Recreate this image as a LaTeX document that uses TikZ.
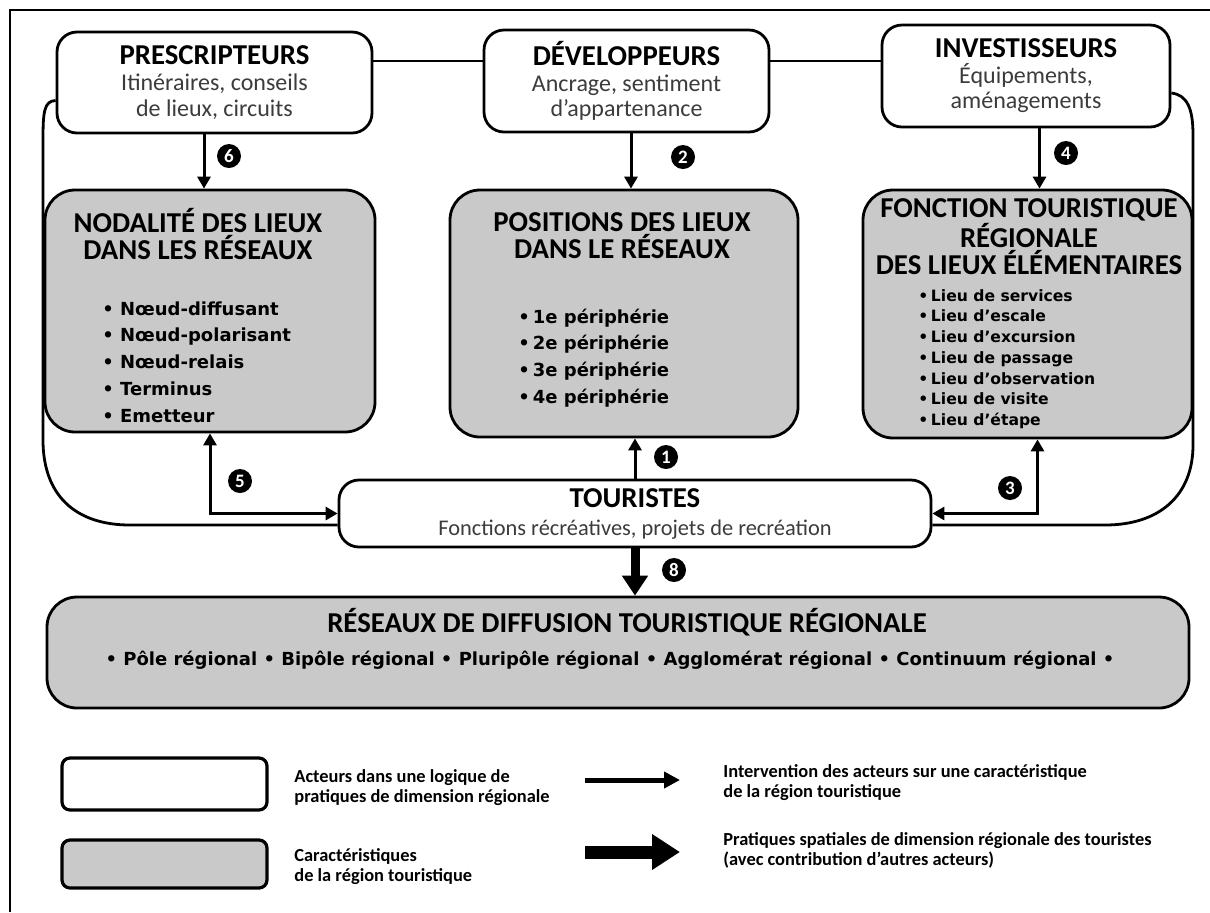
\documentclass[tikz,border=0pt]{standalone}
\usepackage{fontspec}
\setmainfont{Carlito}
\newfontfamily\puce{DejaVu Sans}
\usetikzlibrary{arrows.meta,positioning,calc}
\definecolor{gris}{HTML}{C9C9C9}
\definecolor{soustexte}{HTML}{3C3C3C}
\newcommand{\acteur}[1]{{\color{black}\bfseries\fontsize{14.4}{12.8}\selectfont #1}}

\begin{document}
\begin{tikzpicture}[x=0.5pt, y=-0.5pt, line width=1.4pt,
  actor/.style={draw, rounded corners=10pt, fill=white, align=center, inner sep=0pt, text=soustexte, font=\fontsize{12}{12.8}\selectfont},
  trait/.style={draw, rounded corners=15pt, fill=gris, inner sep=0pt},
  heading/.style={align=center, inner sep=0pt, font=\bfseries\fontsize{14.4}{13.5}\selectfont},
  items/.style={align=left, inner sep=0pt, font=\puce\bfseries\fontsize{9}{13.4}\selectfont},
  num/.style={circle, fill=black, text=white, inner sep=0pt, minimum size=12pt, font=\bfseries\fontsize{9.5}{9.5}\selectfont},
  link/.style={-{Triangle[length=6pt, width=6.5pt]}, line width=1.5pt},
  dlink/.style={{Triangle[length=6pt, width=6.5pt]}-{Triangle[length=6pt, width=6.5pt]}, line width=1.5pt},
  biglink/.style={-{Triangle[length=10pt, width=12.5pt]}, line width=4.5pt},
  legbox/.style={rounded corners=4pt, line width=1.6pt},
  legtext/.style={anchor=west, align=left, inner sep=0pt, font=\bfseries\fontsize{9.2}{10}\selectfont}]
  \useasboundingbox (0,0) rectangle (1210,912);
  \draw (10,912) -- (10,10) -- (1210,10);
  \coordinate (toprow) at (0,61);
  \coordinate (looprow) at (0,525);

  % acteurs
  \node[actor, minimum width=157.5pt, minimum height=50.5pt] (presc) at (214.5,82.5) {\acteur{PRESCRIPTEURS}\\Itinéraires, conseils\\de lieux, circuits};
  \node[actor, minimum width=142.5pt, minimum height=51pt] (dev) at (626.5,81) {\acteur{DÉVELOPPEURS}\\Ancrage, sentiment\\d’appartenance};
  \node[actor, minimum width=144pt, minimum height=51pt] (inv) at (1026,76) {\acteur{INVESTISSEURS}\\Équipements,\\aménagements};
  \node[actor, minimum width=296pt, minimum height=33.5pt, font=\fontsize{11.2}{14}\selectfont] (tour) at (635,513.5) {\acteur{TOURISTES}\\Fonctions récréatives, projets de recréation};
  \draw (presc.east |- toprow) -- (dev.west |- toprow);
  \draw (dev.east |- toprow) -- (inv.west |- toprow);

  % boucles
  \draw ($(presc.west)+(0,18)$) .. controls (44,101) and (43,112) .. (43,140) -- (43,440) .. controls (43,495) and (75,525) .. (130,525) -- (tour.west |- looprow);
  \draw ($(inv.east)+(0,17)$) .. controls (1187,95) and (1193,108) .. (1193,135) -- (1193,445) .. controls (1193,495) and (1160,525) .. (1105,525) -- (tour.east |- looprow);

  % caracteristiques
  \node[trait, minimum width=165pt, minimum height=121pt] (nodal) at (210,311) {};
  \node[heading] (nodal-t) at (198,234) {NODALITÉ DES LIEUX\\DANS LES RÉSEAUX};
  \node[items, anchor=west] (nodal-l) at (101,362) {• Nœud-diffusant\\• Nœud-polarisant\\• Nœud-relais\\• Terminus\\• Emetteur};
  \node[trait, minimum width=174pt, minimum height=123.5pt] (posit) at (624,313.5) {};
  \node[heading] (posit-t) at (622,236) {POSITIONS DES LIEUX\\DANS LE RÉSEAUX};
  \node[items, anchor=west] (posit-l) at (517,358) {•\,1e périphérie\\•\,2e périphérie\\•\,3e périphérie\\•\,4e périphérie};
  \node[trait, minimum width=164.5pt, minimum height=124pt] (fonct) at (1027.5,314) {};
  \node[heading] (fonct-t) at (1029,237) {FONCTION TOURISTIQUE\\RÉGIONALE\\DES LIEUX ÉLÉMENTAIRES};
  \node[items, anchor=west, font=\puce\bfseries\fontsize{7.8}{10.35}\selectfont] (fonct-l) at (917,359) {•\,Lieu de services\\•\,Lieu d’escale\\•\,Lieu d’excursion\\•\,Lieu de passage\\•\,Lieu d’observation\\•\,Lieu de visite\\•\,Lieu d’étape};

  % reseaux
  \node[trait, minimum width=571pt, minimum height=55.5pt] (reseau) at (618,652.5) {};
  \node[heading] (reseau-t) at (627,622) {RÉSEAUX DE DIFFUSION TOURISTIQUE RÉGIONALE};
  \node[items] (reseau-l) at (610,660) {• Pôle régional • Bipôle régional • Pluripôle régional • Agglomérat régional • Continuum régional •};

  % fleches
  \coordinate (n-in) at ($(nodal.north)+(-6,0)$);
  \coordinate (p-in) at ($(posit.north)+(7,0)$);
  \coordinate (f-in) at ($(fonct.north)+(12,0)$);
  \coordinate (f-out) at ($(fonct.south)+(10,0)$);
  \draw[link] (n-in |- presc.south) -- (n-in);
  \draw[link] (p-in |- dev.south) -- (p-in);
  \draw[link] (f-in |- inv.south) -- (f-in);
  \draw[link] (tour.north) -- (tour.north |- posit.south);
  \draw[dlink] (nodal.south) |- (tour.west);
  \draw[dlink] (f-out) |- (tour.east);
  \draw[biglink] (tour.south) -- (tour.south |- reseau.north);
  \node[num] (n6) at (229,156) {6};
  \node[num] (n2) at (683,157) {2};
  \node[num] (n4) at (1066,153) {4};
  \node[num] (n1) at (666,457) {1};
  \node[num] (n5) at (240,481) {5};
  \node[num] (n3) at (1010,488) {3};
  \node[num] (n8) at (674,570) {8};

  % legende
  \node[actor, legbox, minimum width=102.5pt, minimum height=26pt] (leg-a) at (164.5,784) {};
  \node[trait, legbox, minimum width=102.5pt, minimum height=24pt] (leg-t) at (164.5,864) {};
  \node[legtext] (leg-a-txt) at (293,788) {Acteurs dans une logique de\\pratiques de dimension régionale};
  \node[legtext] (leg-t-txt) at (293,867) {Caractéristiques\\de la région touristique};
  \coordinate (la-s) at (585,780);
  \coordinate (la-e) at (680,780);
  \coordinate (lb-s) at (585,852);
  \coordinate (lb-e) at (680,852);
  \draw[-{Triangle[length=8pt, width=8pt]}, line width=2.5pt] (la-s) -- (la-e);
  \draw[-{Triangle[length=14pt, width=17pt]}, line width=6.5pt] (lb-s) -- (lb-e);
  \node[legtext] (leg-1) at (722,783) {Intervention des acteurs sur une caractéristique\\de la région touristique};
  \node[legtext] (leg-2) at (722,850) {Pratiques spatiales de dimension régionale des touristes\\(avec contribution d’autres acteurs)};
\end{tikzpicture}
\end{document}
